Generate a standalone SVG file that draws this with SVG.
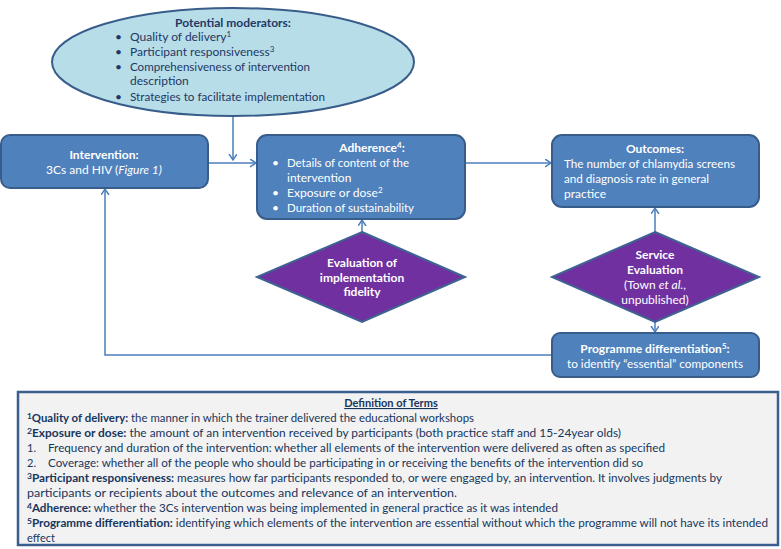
<svg xmlns="http://www.w3.org/2000/svg" width="781" height="549" viewBox="0 0 781 549">
<defs>
<style>
text{font-family:Lato,"Open Sans","Liberation Sans",sans-serif;}
.box{fill:#4f81bd;stroke:#385d8a;stroke-width:2;}
.dia{fill:#7030a0;stroke:#3f6392;stroke-width:2;}
.w{fill:#ffffff;font-size:12px;}
.n{fill:#1f3864;font-size:12px;}
.d{fill:#17365d;font-size:11px;}
.b{font-weight:bold;}
.i{font-style:italic;}
.sup{font-size:8px;}
.c{text-anchor:middle;}
.con{fill:none;stroke:#4a7ebb;stroke-width:1.5;}
</style>
<marker id="ah" markerUnits="userSpaceOnUse" markerWidth="10" markerHeight="10" refX="6" refY="4" orient="auto">
<path d="M0,0 L6,4 L0,8" fill="none" stroke="#4a7ebb" stroke-width="1.5"/>
</marker>
</defs>
<rect width="781" height="549" fill="#ffffff"/>

<g id="connectors">
<path class="con" d="M233,116 L233,160" marker-end="url(#ah)"/>
<path class="con" d="M208,163 L256,163" marker-end="url(#ah)"/>
<path class="con" d="M465,163 L551,163" marker-end="url(#ah)"/>
<path class="con" d="M362,232 L362,220" marker-end="url(#ah)"/>
<path class="con" d="M655,232 L655,208" marker-end="url(#ah)"/>
<path class="con" d="M655,322 L655,332" marker-end="url(#ah)"/>
<path class="con" d="M552,355 L105,355 L105,189" marker-end="url(#ah)"/>
</g>

<g id="moderators">
<ellipse cx="233" cy="62" rx="181" ry="54" fill="#b7dde8" stroke="#385d8a" stroke-width="2"/>
<text class="n b c" x="233" y="27">Potential moderators:</text>
<text class="n" x="115" y="41">•</text>
<text class="n" x="130" y="41">Quality of delivery<tspan class="sup" dy="-4">1</tspan></text>
<text class="n" x="115" y="56">•</text>
<text class="n" x="130" y="56">Participant responsiveness<tspan class="sup" dy="-4">3</tspan></text>
<text class="n" x="115" y="71">•</text>
<text class="n" x="130" y="71" textLength="180" lengthAdjust="spacingAndGlyphs">Comprehensiveness of intervention</text>
<text class="n" x="130" y="85">description</text>
<text class="n" x="115" y="101">•</text>
<text class="n" x="130" y="101" textLength="195" lengthAdjust="spacingAndGlyphs">Strategies to facilitate implementation</text>
</g>

<g id="intervention">
<rect class="box" x="1" y="135" width="207" height="53" rx="9"/>
<text class="w b c" x="104" y="159">Intervention:</text>
<text class="w c" x="104" y="174">3Cs and HIV (<tspan class="i">Figure 1)</tspan></text>
</g>

<g id="adherence">
<rect class="box" x="257" y="135" width="208" height="84" rx="10"/>
<text class="w b c" x="372" y="152">Adherence<tspan class="sup" dy="-4">4</tspan><tspan dy="4">:</tspan></text>
<text class="w" x="272" y="167">•</text>
<text class="w" x="287" y="167" textLength="122" lengthAdjust="spacingAndGlyphs">Details of content of the</text>
<text class="w" x="287" y="182">intervention</text>
<text class="w" x="272" y="197">•</text>
<text class="w" x="287" y="197">Exposure or dose<tspan class="sup" dy="-4">2</tspan></text>
<text class="w" x="272" y="212">•</text>
<text class="w" x="287" y="212" textLength="127" lengthAdjust="spacingAndGlyphs">Duration of sustainability</text>
</g>

<g id="outcomes">
<rect class="box" x="552" y="135" width="207" height="72" rx="10"/>
<text class="w b c" x="655" y="153">Outcomes:</text>
<text class="w" x="564" y="168" textLength="171" lengthAdjust="spacingAndGlyphs">The number of chlamydia screens</text>
<text class="w" x="564" y="183" textLength="145" lengthAdjust="spacingAndGlyphs">and diagnosis rate in general</text>
<text class="w" x="564" y="198">practice</text>
</g>

<g id="fidelity">
<polygon class="dia" points="362,232 465,277 362,322 257,277"/>
<text class="w b c" x="362" y="267">Evaluation of</text>
<text class="w b c" x="362" y="282">implementation</text>
<text class="w b c" x="362" y="296">fidelity</text>
</g>

<g id="service">
<polygon class="dia" points="655,232 759,277 655,322 552,277"/>
<text class="w b c" x="655" y="259">Service</text>
<text class="w b c" x="655" y="274">Evaluation</text>
<text class="w c" x="655" y="289">(Town <tspan class="i">et al.</tspan>,</text>
<text class="w c" x="655" y="304">unpublished)</text>
</g>

<g id="differentiation">
<rect class="box" x="552" y="333" width="207" height="44" rx="8"/>
<text class="w b c" x="655" y="353">Programme differentiation<tspan class="sup" dy="-4">5</tspan><tspan dy="4">:</tspan></text>
<text class="w c" x="655" y="368" textLength="176" lengthAdjust="spacingAndGlyphs">to identify “essential” components</text>
</g>

<g id="definitions">
<rect x="18" y="392" width="760" height="153" fill="#f2f2f2" stroke="#3a5f8e" stroke-width="2.5"/>
<text class="d b c" x="391" y="407" text-decoration="underline">Definition of Terms</text>
<text class="d" x="27" y="422" textLength="447" lengthAdjust="spacingAndGlyphs"><tspan class="b sup" dy="-3">1</tspan><tspan class="b" dy="3">Quality of delivery:</tspan> the manner in which the trainer delivered the educational workshops</text>
<text class="d" x="27" y="437" textLength="594" lengthAdjust="spacingAndGlyphs"><tspan class="b sup" dy="-3">2</tspan><tspan class="b" dy="3">Exposure or dose:</tspan> the amount of an intervention received by participants (both practice staff and 15-24year olds)</text>
<text class="d" x="27" y="452">1.</text>
<text class="d" x="48" y="452" textLength="617" lengthAdjust="spacingAndGlyphs">Frequency and duration of the intervention: whether all elements of the intervention were delivered as often as specified</text>
<text class="d" x="27" y="467">2.</text>
<text class="d" x="48" y="467" textLength="595" lengthAdjust="spacingAndGlyphs">Coverage: whether all of the people who should be participating in or receiving the benefits of the intervention did so</text>
<text class="d" x="27" y="482" textLength="695" lengthAdjust="spacingAndGlyphs"><tspan class="b sup" dy="-3">3</tspan><tspan class="b" dy="3">Participant responsiveness:</tspan> measures how far participants responded to, or were engaged by, an intervention. It involves judgments by</text>
<text class="d" x="27" y="497" textLength="430" lengthAdjust="spacingAndGlyphs">participants or recipients about the outcomes and relevance of an intervention.</text>
<text class="d" x="27" y="512" textLength="531" lengthAdjust="spacingAndGlyphs"><tspan class="b sup" dy="-3">4</tspan><tspan class="b" dy="3">Adherence:</tspan> whether the 3Cs intervention was being implemented in general practice as it was intended</text>
<text class="d" x="27" y="527" textLength="741" lengthAdjust="spacingAndGlyphs"><tspan class="b sup" dy="-3">5</tspan><tspan class="b" dy="3">Programme differentiation:</tspan> identifying which elements of the intervention are essential without which the programme will not have its intended</text>
<text class="d" x="27" y="542">effect</text>
</g>
</svg>
